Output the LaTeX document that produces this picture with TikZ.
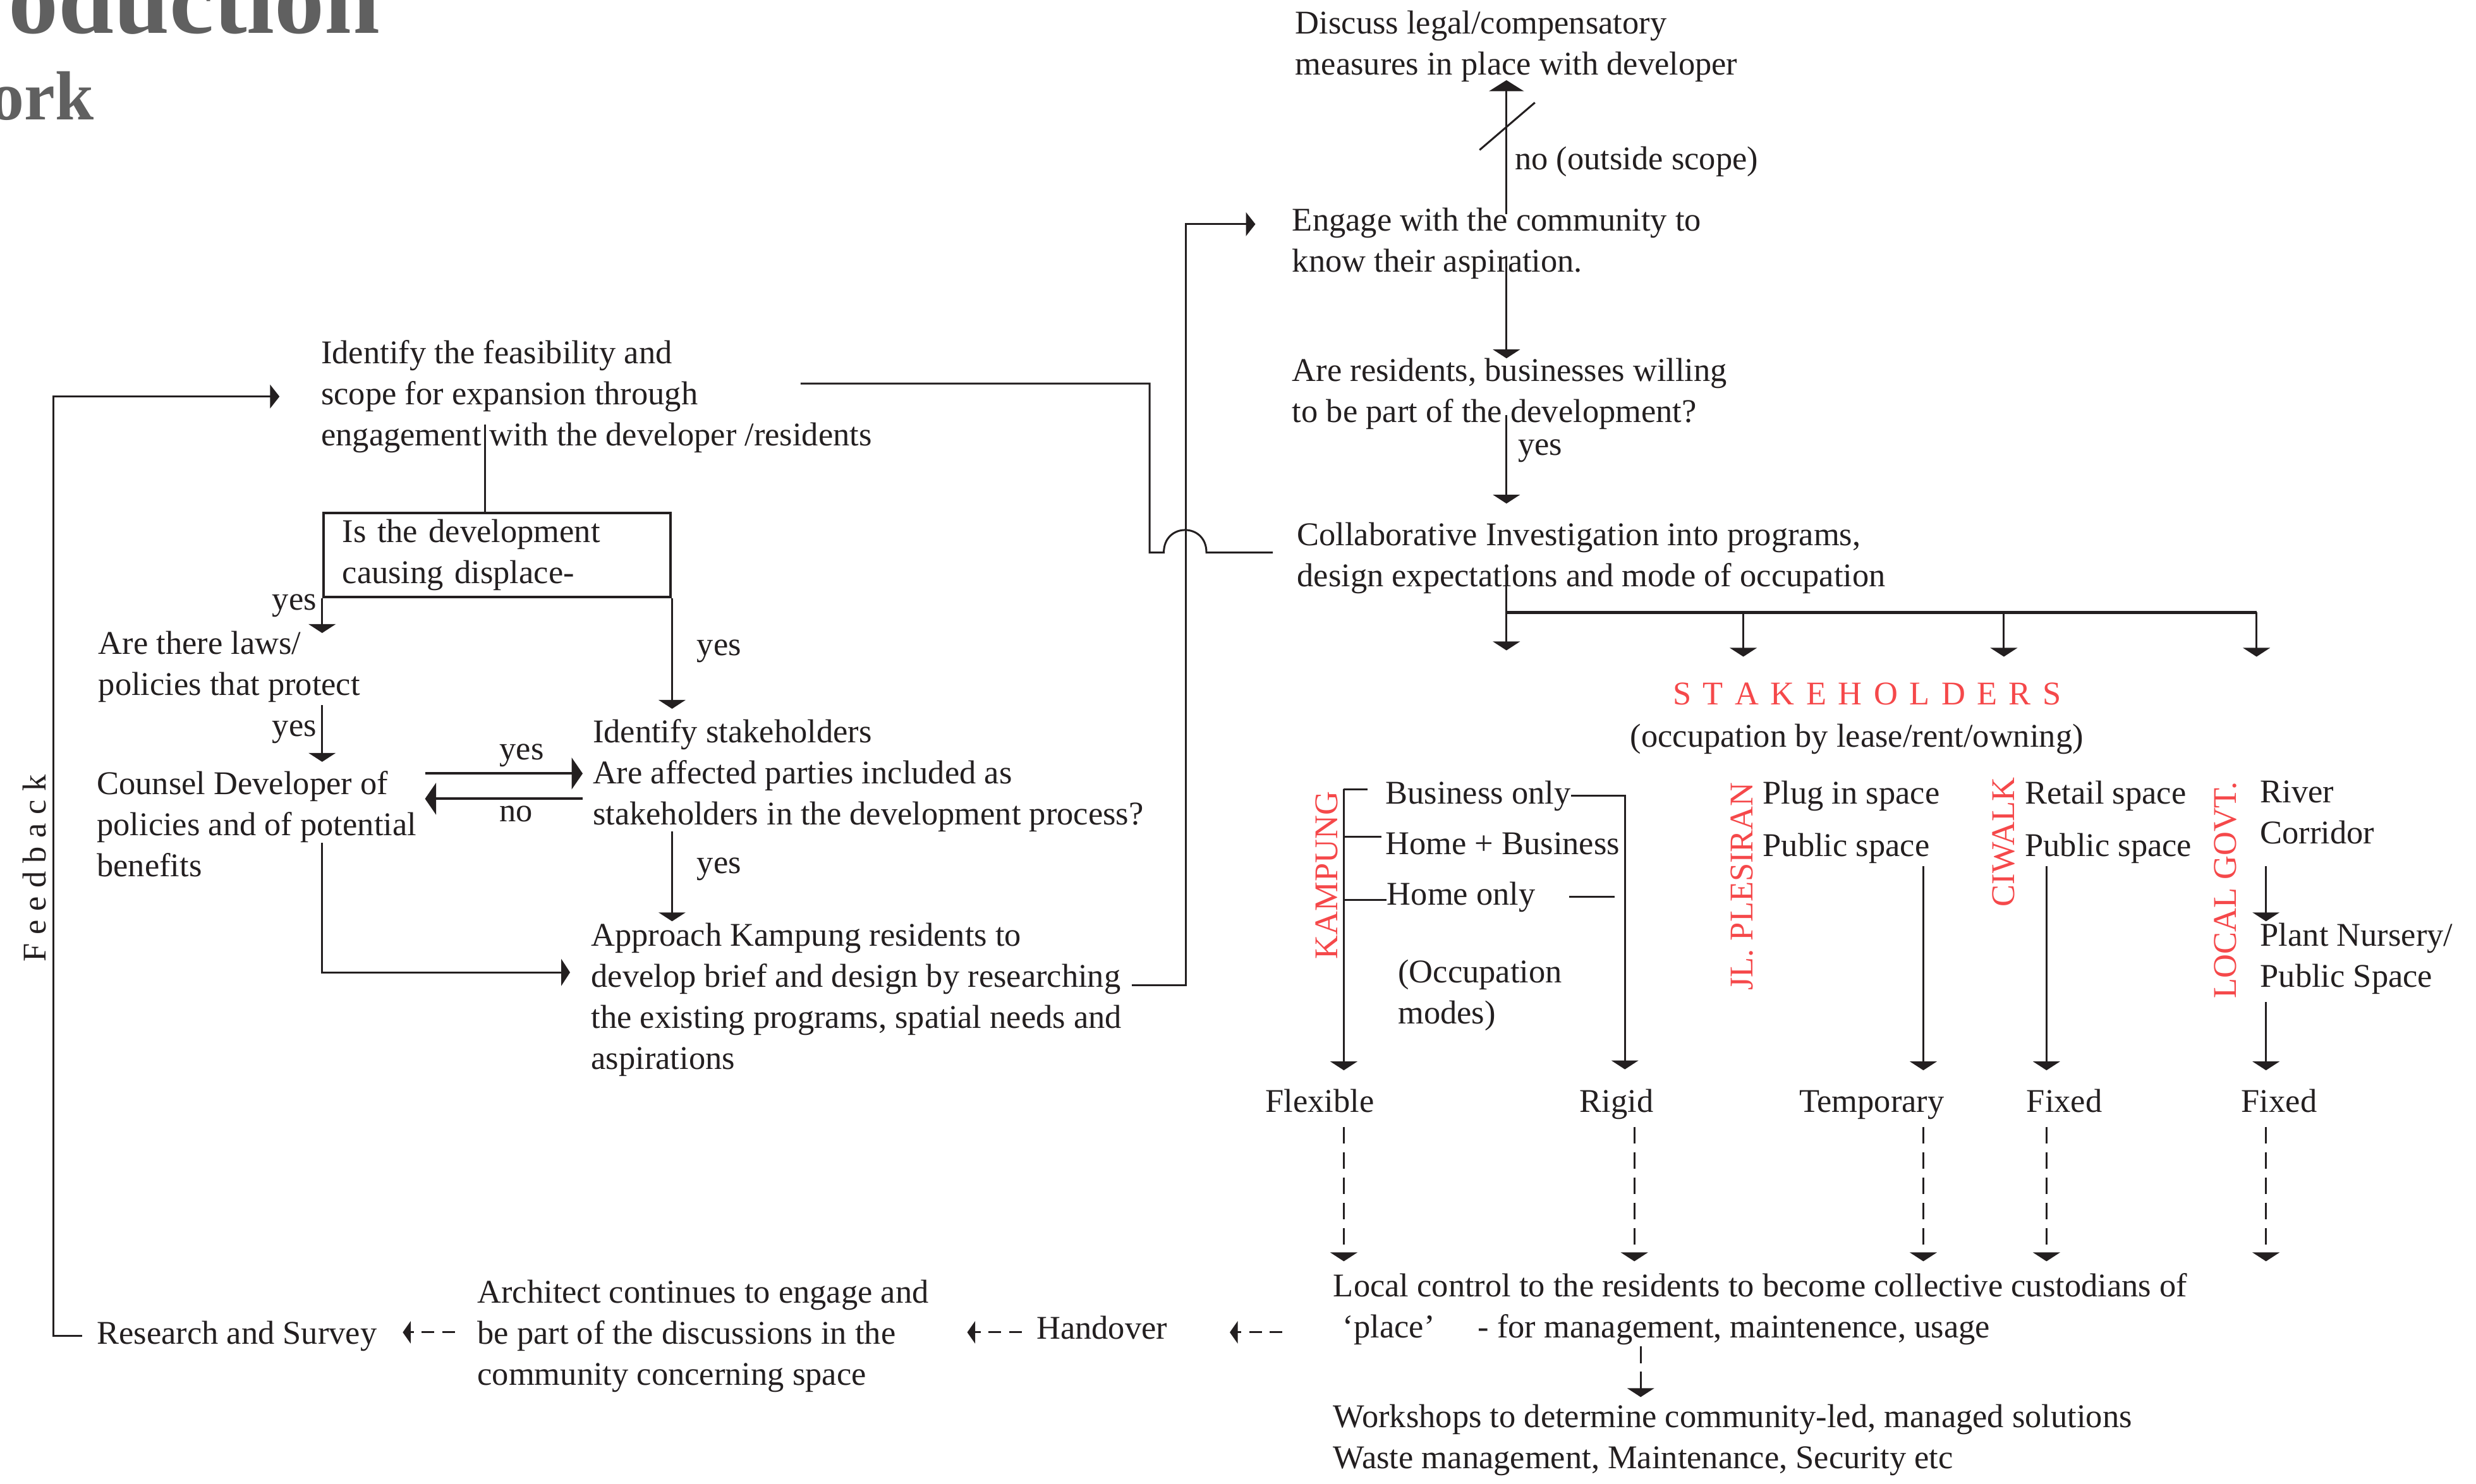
\documentclass[tikz,border=0pt]{standalone}
\usepackage{fontspec}
\setmainfont{Liberation Serif}
\usetikzlibrary{arrows.meta}
\definecolor{ink}{HTML}{231F20}
\definecolor{redl}{HTML}{F5484A}
\definecolor{titlegrey}{HTML}{606060}
\newcommand\mf{\fontsize{10.5}{13}\selectfont}
\begin{document}
\begin{tikzpicture}[x=0.5pt,y=-0.5pt,
  txt/.style={anchor=north west, inner sep=0pt, align=left, font=\mf, text=ink, yshift=9.1pt},
  redrot/.style={rotate=90, inner sep=0pt, font=\mf, text=redl},
  ln/.style={line width=0.6pt, draw=ink},
  arr/.style={ln, -{Triangle[width=8.5pt,length=2.8pt]}},
  arrbig/.style={ln, -{Triangle[width=11pt,length=3.5pt]}},
  arrside/.style={line width=0.8pt, draw=ink, -{Triangle[width=10pt,length=3.5pt]}},
  arrthin/.style={ln, -{Triangle[width=7.5pt,length=3pt]}},
  darr/.style={ln, dash pattern=on 4pt off 2.5pt, -{Triangle[width=7pt,length=2.5pt]}},
  vdarr/.style={ln, dash pattern=on 5.35pt off 2.65pt, -{Triangle[width=8.5pt,length=2.8pt]}}]
\useasboundingbox (0,0) rectangle (1568,940);
\fill[white] (0,0) rectangle (1568,940);

% title fragments
\node[anchor=base west, inner sep=0pt, font=\fontsize{31.6}{36}\selectfont\bfseries, text=titlegrey] (title1) at (5,21) {oduction};
\node[anchor=base west, inner sep=0pt, font=\fontsize{22}{26}\selectfont\bfseries, text=titlegrey] (title2) at (-7,76) {ork};

% right column, top
\node[txt] (discuss) at (820,21) {\strut Discuss legal/compensatory\\measures in place with developer\strut};
\node[txt] (noout) at (959,107) {\strut no (outside scope)\strut};
\node[txt] (engage) at (818,146) {\strut Engage with the community to\\know their aspiration.\strut};
\node[txt] (willing) at (818,241) {\strut Are residents, businesses willing\\to be part of the development?\strut};
\node[txt] (yes1) at (961,288) {\strut yes\strut};
\node[txt] (collab) at (821,345) {\strut Collaborative Investigation into programs,\\design expectations and mode of occupation\strut};
\node[txt, text=redl] (stake) at (1059,446) {\strut S\kern3.7pt T\kern3.7pt A\kern3.7pt K\kern3.7pt E\kern3.7pt H\kern3.7pt O\kern3.7pt L\kern3.7pt D\kern3.7pt E\kern3.7pt R\kern3.7pt S\strut};
\node[txt] (lease) at (1032,473) {\strut (occupation by lease/rent/owning)\strut};

% left part
\node[txt] (feas) at (203,230) {\strut Identify the feasibility and\\scope for expansion through\\engagement with the developer /residents\strut};
\node[draw=ink, line width=0.8pt, anchor=north west, inner xsep=6pt, inner ysep=0pt, text width=98pt, minimum height=26.75pt, align=left, font=\mf, text=ink] (disp) at (204,324) {\strut Is the development\\causing displace-\strut};
\node[txt] (yes2) at (172,386) {\strut yes\strut};
\node[txt] (laws) at (62,414) {\strut Are there laws/\\policies that protect\strut};
\node[txt] (yes3) at (441,415) {\strut yes\strut};
\node[txt] (yes4) at (172,466) {\strut yes\strut};
\node[txt] (idst) at (375,470) {\strut Identify stakeholders\\Are affected parties included as\\stakeholders in the development process?\strut};
\node[txt] (yes5) at (316,481) {\strut yes\strut};
\node[txt] (no1) at (316,520) {\strut no\strut};
\node[txt] (counsel) at (61,503) {\strut Counsel Developer of\\policies and of potential\\benefits\strut};
\node[txt] (yes6) at (441,553) {\strut yes\strut};
\node[txt] (appr) at (374,599) {\strut Approach Kampung residents to\\develop brief and design by researching\\the existing programs, spatial needs and\\aspirations\strut};
\node[rotate=90, inner sep=0pt, font=\mf, text=ink] (fb) at (22,550) {F\kern2.7pt e\kern2.7pt e\kern2.7pt d\kern2.7pt b\kern2.7pt a\kern2.7pt c\kern2.7pt k};

% bottom row
\node[txt] (research) at (61,851) {\strut Research and Survey\strut};
\node[txt] (arch) at (302,825) {\strut Architect continues to engage and\\be part of the discussions in the\\community concerning space\strut};
\node[txt] (handover) at (656,848) {\strut Handover\strut};
\node[txt] (local) at (844,821) {\strut Local control to the residents to become collective custodians of\\\hspace*{3pt}‘place’\hspace{11pt} - for management, maintenence, usage\strut};
\node[txt] (workshop) at (844,904) {\strut Workshops to determine community-led, managed solutions\\Waste management, Maintenance, Security etc\strut};

% stakeholder groups
\node[redrot] (kampung) at (840,554.5) {KAMPUNG};
\node[txt] (bizonly) at (877,509) {\strut Business only\strut};
\node[txt] (homebiz) at (877,541) {\strut Home + Business\strut};
\node[txt] (homeonly) at (878,573) {\strut Home only\strut};
\node[txt] (occmodes) at (885,622) {\strut (Occupation\\modes)\strut};
\node[txt] (flex) at (801,704) {\strut Flexible\strut};
\node[txt] (rigid) at (1000,704) {\strut Rigid\strut};
\node[redrot] (plesiran) at (1103,561.5) {JL. PLESIRAN};
\node[txt] (plug) at (1116,509) {\strut Plug in space\strut};
\node[txt] (pub1) at (1116,542) {\strut Public space\strut};
\node[txt] (temp) at (1139,704) {\strut Temporary\strut};
\node[redrot] (ciwalk) at (1269,533.5) {CIWALK};
\node[txt] (retail) at (1282,509) {\strut Retail space\strut};
\node[txt] (pub2) at (1282,542) {\strut Public space\strut};
\node[txt] (fixed1) at (1283,704) {\strut Fixed\strut};
\node[redrot] (lgov) at (1409.5,564) {LOCAL GOVT.};
\node[txt] (river) at (1431,508) {\strut River\\Corridor\strut};
\node[txt] (nursery) at (1431,599) {\strut Plant Nursery/\\Public Space\strut};
\node[txt] (fixed2) at (1419,704) {\strut Fixed\strut};

% named coordinates
\coordinate (spine) at (954,0);
\coordinate (bus) at (954,388);
\coordinate (bus2) at (1104,388);
\coordinate (bus3) at (1269,388);
\coordinate (bus4) at (1429,388);
\coordinate (feasout) at (507,243);
\coordinate (bend) at (728,350);
\coordinate (humpL) at (737,350);
\coordinate (humpR) at (764,350);
\coordinate (vx) at (751,0);
\coordinate (r624) at (0,624);
\coordinate (r142) at (0,142);
\coordinate (fbx) at (34,0);
\coordinate (bx) at (307,0);
\coordinate (ryes) at (0,490);
\coordinate (rno) at (0,506);
\coordinate (r616) at (0,616);
\coordinate (brow) at (0,844);
\coordinate (fx) at (851,0);
\coordinate (rxs) at (1029,0);
\coordinate (rxd) at (1035,0);
\coordinate (tx) at (1218,0);
\coordinate (cx) at (1296,0);
\coordinate (gx) at (1435,0);
\coordinate (wx) at (1039,0);

% top spine
\draw[arrbig, shorten <=-3.9pt, shorten >=-2.4pt] (engage.north -| spine) -- (discuss.south -| spine);
\draw[ln] (937,95) -- (972,65);
\draw[arr, shorten <=-8.4pt, shorten >=-2.1pt] (engage.south -| spine) -- (willing.north -| spine);
\draw[arr, shorten <=-6.4pt, shorten >=3.9pt] (willing.south -| spine) -- (collab.north -| spine);
\draw[arr, shorten <=-10.9pt, shorten >=7.9pt] (collab.south -| spine) -- (stake.north -| spine);
\draw[line width=0.9pt, draw=ink] (bus) -- (bus4);
\draw[arr, shorten >=5.9pt] (bus2) -- (bus2 |- stake.north);
\draw[arr, shorten >=5.9pt] (bus3) -- (bus3 |- stake.north);
\draw[arr, shorten >=5.9pt] (bus4) -- (bus4 |- stake.north);

% feasibility -> collaborative (with hop)
\draw[ln, shorten >=7.5pt] (feasout) -| (bend) -- (humpL) .. controls +(0,-19) and +(0,-19) .. (humpR) -- (collab.west |- humpR);
% approach -> engage
\draw[arrthin, shorten <=3pt, shorten >=11.5pt] (appr.east |- r624) -| (vx |- r142) -- (engage.west |- r142);
% feedback loop
\draw[arrthin, shorten <=4.5pt, shorten >=13pt] (research.west) -| (fbx |- feas.west) -- (feas.west);

% left flow
\draw[ln, shorten <=-10.9pt] (feas.south -| bx) -- (disp.north -| bx);
\draw[arr, shorten >=-2.6pt] (disp.south west) -- (disp.south west |- laws.north);
\draw[arr, shorten >=1.4pt] (disp.south east) -- (disp.south east |- idst.north);
\draw[arr, shorten <=-0.9pt, shorten >=1.1pt] (laws.south -| disp.south west) -- (counsel.north -| disp.south west);
\draw[arrside, shorten <=2.5pt, shorten >=3pt] (counsel.east |- ryes) -- (idst.west |- ryes);
\draw[arrside, shorten <=3pt, shorten >=2.5pt] (idst.west |- rno) -- (counsel.east |- rno);
\draw[arr, shorten <=-14.9pt, shorten >=6.5pt] (counsel.south -| disp.south west) |- (appr.west |- r616);
\draw[arr, shorten <=-1.9pt, shorten >=-1.4pt] (idst.south -| disp.south east) -- (appr.north -| disp.south east);

% bottom dashed chain
\draw[darr, shorten <=16pt, shorten >=19.6pt] (local.west |- brow) -- (handover.east |- brow);
\draw[darr, shorten <=4.5pt, shorten >=12pt] (handover.west |- brow) -- (arch.east |- brow);
\draw[darr, shorten <=7pt, shorten >=8pt] (arch.west |- brow) -- (research.east |- brow);
\draw[vdarr, shorten <=-1.4pt, shorten >=0.4pt] (local.south -| wx) -- (workshop.north -| wx);

% kampung bracket
\draw[ln] (866,500) -- (fx |- 0,500);
\draw[ln] (fx |- 0,530) -- (875,530);
\draw[ln] (fx |- 0,570) -- (878,570);
\draw[arr, shorten >=3.9pt] (fx |- 0,500) -- (fx |- flex.north);
\draw[arr, shorten >=4.2pt] (bizonly.east) -| (rxs |- rigid.north);
\draw[ln] ([xshift=10.5pt]homeonly.east) -- ++(29,0);

% other groups
\draw[arr, shorten <=-0.9pt, shorten >=3.9pt] (pub1.south -| tx) -- (tx |- temp.north);
\draw[arr, shorten <=-0.9pt, shorten >=3.9pt] (pub2.south -| cx) -- (cx |- fixed1.north);
\draw[arr, shorten <=3.1pt, shorten >=-1.4pt] (river.south -| gx) -- (gx |- nursery.north);
\draw[arr, shorten <=0.6pt, shorten >=3.9pt] (nursery.south -| gx) -- (gx |- fixed2.north);

% dashed arrows to local control
\draw[vdarr, shorten <=0.6pt, shorten >=1.9pt] (flex.south -| fx) -- (fx |- local.north);
\draw[vdarr, shorten <=0.6pt, shorten >=1.9pt] (rigid.south -| rxd) -- (rxd |- local.north);
\draw[vdarr, shorten <=0.6pt, shorten >=1.9pt] (temp.south -| tx) -- (tx |- local.north);
\draw[vdarr, shorten <=0.6pt, shorten >=1.9pt] (fixed1.south -| cx) -- (cx |- local.north);
\draw[vdarr, shorten <=0.6pt, shorten >=1.9pt] (fixed2.south -| gx) -- (gx |- local.north);
\end{tikzpicture}
\end{document}
